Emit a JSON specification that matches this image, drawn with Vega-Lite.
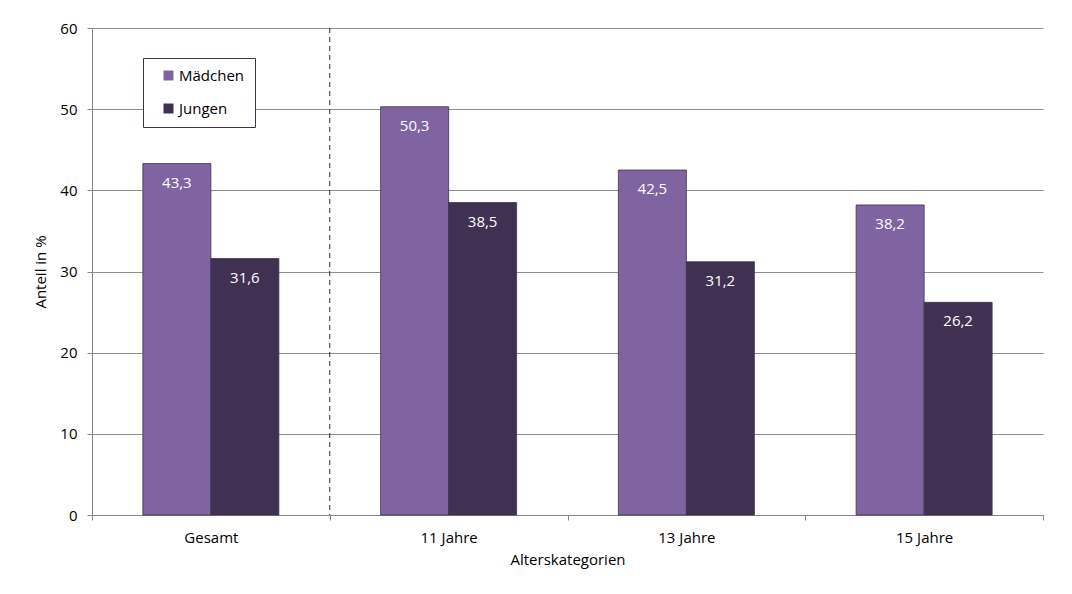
{
  "$schema": "https://vega.github.io/schema/vega-lite/v6.json",
  "width": 951,
  "height": 487,
  "autosize": "none",
  "padding": {"left": 92, "top": 28, "right": 29, "bottom": 79},
  "background": "white",
  "config": {
    "font": "Open Sans",
    "view": {"stroke": null},
    "locale": {"number": {"decimal": ",", "thousands": ".", "grouping": [3], "currency": ["", " €"]}}
  },
  "data": {
    "values": [
      {"kategorie": "Gesamt", "geschlecht": "Mädchen", "anteil": 43.3},
      {"kategorie": "Gesamt", "geschlecht": "Jungen", "anteil": 31.6},
      {"kategorie": "11 Jahre", "geschlecht": "Mädchen", "anteil": 50.3},
      {"kategorie": "11 Jahre", "geschlecht": "Jungen", "anteil": 38.5},
      {"kategorie": "13 Jahre", "geschlecht": "Mädchen", "anteil": 42.5},
      {"kategorie": "13 Jahre", "geschlecht": "Jungen", "anteil": 31.2},
      {"kategorie": "15 Jahre", "geschlecht": "Mädchen", "anteil": 38.2},
      {"kategorie": "15 Jahre", "geschlecht": "Jungen", "anteil": 26.2}
    ]
  },
  "layer": [
    {
      "mark": {"type": "bar", "stroke": "#3f3151", "strokeWidth": 0.8},
      "encoding": {
        "x": {
          "field": "kategorie",
          "type": "nominal",
          "sort": null,
          "scale": {"paddingInner": 0, "paddingOuter": 0},
          "axis": {
            "title": "Alterskategorien",
            "labelAngle": 0,
            "labelFontSize": 15,
            "labelColor": "#000",
            "labelPadding": 10,
            "titleFontSize": 15,
            "titleFontWeight": "normal",
            "titleColor": "#000",
            "titlePadding": 7,
            "domainColor": "#868686",
            "tickColor": "#868686",
            "tickSize": 5,
            "tickBand": "extent",
            "grid": false
          }
        },
        "xOffset": {
          "field": "geschlecht",
          "type": "nominal",
          "sort": null,
          "scale": {"paddingInner": 0, "paddingOuter": 0.748}
        },
        "y": {
          "field": "anteil",
          "type": "quantitative",
          "scale": {"domain": [0, 60], "nice": false},
          "axis": {
            "title": "Anteil in %",
            "values": [0, 10, 20, 30, 40, 50, 60],
            "labelFontSize": 15,
            "labelColor": "#000",
            "labelPadding": 10,
            "titleFontSize": 15,
            "titleFontWeight": "normal",
            "titleColor": "#000",
            "titlePadding": 11,
            "domainColor": "#868686",
            "tickColor": "#868686",
            "tickSize": 5,
            "gridColor": "#8f8f8f"
          }
        },
        "color": {
          "field": "geschlecht",
          "type": "nominal",
          "scale": {"domain": ["Mädchen", "Jungen"], "range": ["#8064A2", "#403152"]},
          "legend": {
            "title": null,
            "orient": "none",
            "legendX": 51,
            "legendY": 30,
            "symbolType": "square",
            "symbolSize": 100,
            "symbolStrokeWidth": 0,
            "symbolOffset": 8,
            "labelFontSize": 15,
            "labelColor": "#000",
            "labelOffset": 3,
            "rowPadding": 17,
            "padding": 10,
            "fillColor": "white",
            "strokeColor": "#403152"
          }
        }
      }
    },
    {
      "mark": {"type": "text", "color": "white", "fontSize": 15, "baseline": "middle", "dy": 19},
      "encoding": {
        "x": {"field": "kategorie", "type": "nominal", "sort": null},
        "xOffset": {"field": "geschlecht", "type": "nominal", "sort": null},
        "y": {"field": "anteil", "type": "quantitative"},
        "text": {"field": "anteil", "type": "quantitative", "format": ".1f"}
      }
    },
    {
      "data": {"values": [{"kategorie": "11 Jahre"}]},
      "mark": {"type": "rule", "color": "#252550", "strokeDash": [5, 4], "strokeWidth": 1},
      "encoding": {
        "x": {"field": "kategorie", "type": "nominal", "sort": null, "bandPosition": 0}
      }
    }
  ]
}
